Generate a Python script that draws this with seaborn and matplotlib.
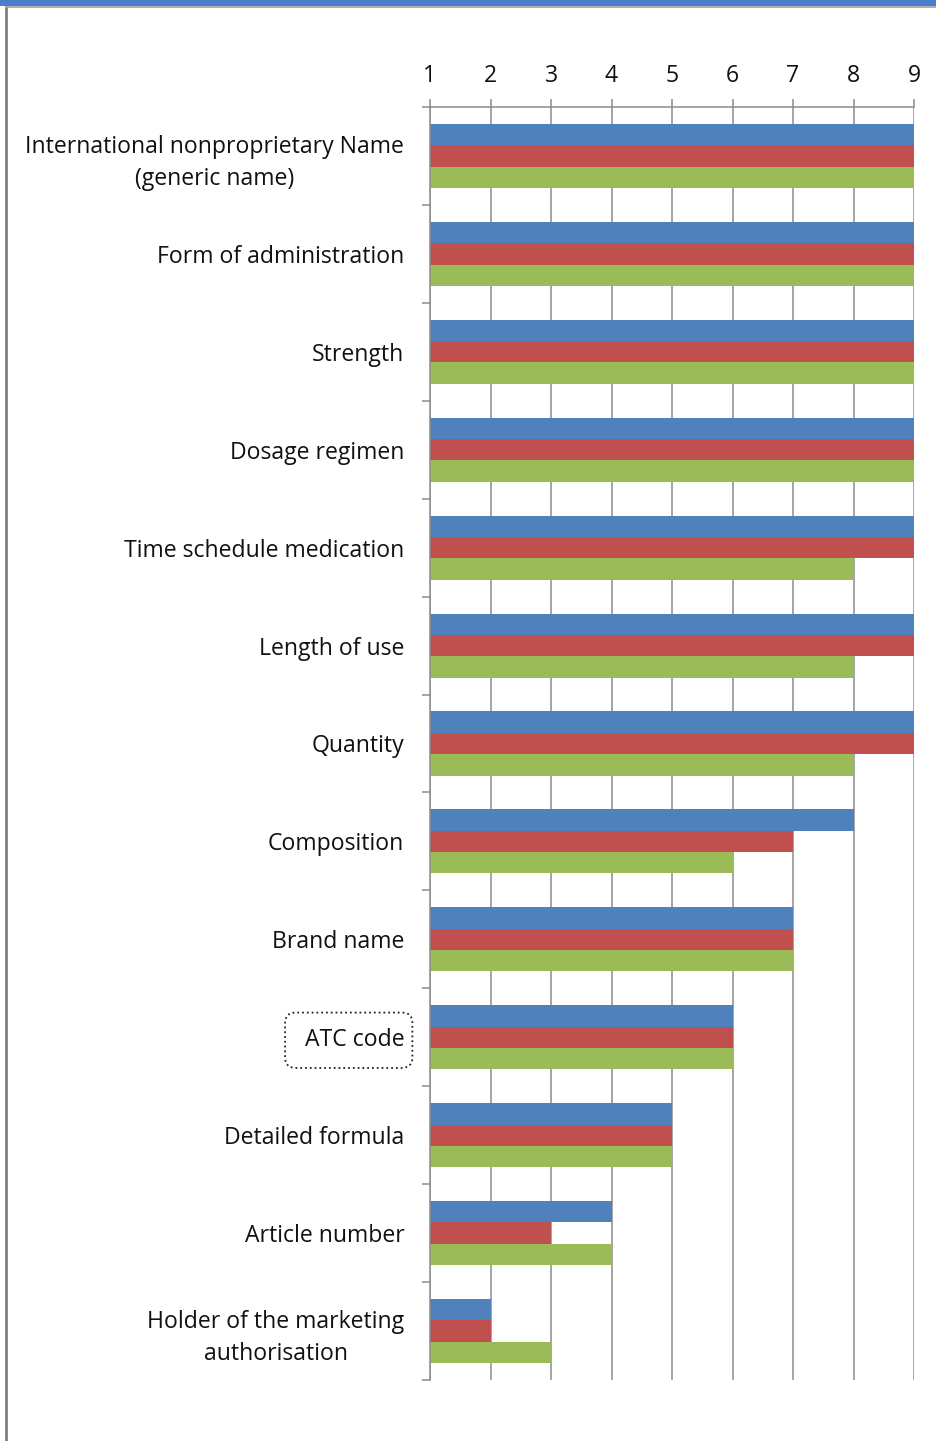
import matplotlib
matplotlib.use("Agg")
import matplotlib.pyplot as plt
from matplotlib.patches import Rectangle, BoxStyle
from matplotlib.lines import Line2D
from matplotlib.ticker import FixedLocator
import seaborn as sns
import pandas as pd

# Information items, top to bottom
items = [
    "International nonproprietary Name\n(generic name)",
    "Form of administration",
    "Strength",
    "Dosage regimen",
    "Time schedule medication",
    "Length of use",
    "Quantity",
    "Composition",
    "Brand name",
    "ATC code",
    "Detailed formula",
    "Article number",
    "Holder of the marketing\nauthorisation",
]

# Scores for the three series
series_a = [9, 9, 9, 9, 9, 9, 9, 8, 7, 6, 5, 4, 2]
series_b = [9, 9, 9, 9, 9, 9, 9, 7, 7, 6, 5, 3, 2]
series_c = [9, 9, 9, 9, 8, 8, 8, 6, 7, 6, 5, 4, 3]
series_names = ["Series 1", "Series 2", "Series 3"]
palette = ["#4F81BD", "#C0504D", "#9BBB59"]
x_ticks = [1, 2, 3, 4, 5, 6, 7, 8, 9]

df = pd.DataFrame({
    "item": items * 3,
    "score": series_a + series_b + series_c,
    "series": [series_names[0]] * len(items)
    + [series_names[1]] * len(items)
    + [series_names[2]] * len(items),
})

sns.set_theme(style="white")
plt.rcParams["font.family"] = ["Open Sans", "DejaVu Sans"]
FS = 16.6

fig = plt.figure(figsize=(9.36, 14.41), dpi=100)
ax = fig.add_axes([430 / 936, 1 - 1380 / 1441, (914 - 430) / 936, (1380 - 107) / 1441])

sns.barplot(data=df, y="item", x="score", hue="series", order=items,
            hue_order=series_names, palette=palette, orient="h",
            width=0.655, saturation=1, legend=False, ax=ax, linewidth=0)

grid_col = "#8C8C8C"
ax.set_xlim(x_ticks[0], x_ticks[-1])
ax.set_ylim(len(items) - 0.5, -0.5)
ax.set_xticks(x_ticks)
ax.set_xticklabels([str(t) for t in x_ticks])
ax.xaxis.tick_top()
ax.set_xlabel("")
ax.set_ylabel("")
ax.grid(False)
ax.set_axisbelow(True)
for t in x_ticks:
    ax.axvline(t, color=grid_col, lw=1.1, zorder=0)

for side in ["right", "bottom"]:
    ax.spines[side].set_visible(False)
for side in ["left", "top"]:
    ax.spines[side].set_color(grid_col)
    ax.spines[side].set_linewidth(1.1)

ax.tick_params(axis="x", which="major", top=True, bottom=False, direction="out",
               length=5.5, width=1.1, color=grid_col, pad=8, labelsize=FS,
               labelcolor="#111111")
ax.yaxis.set_minor_locator(FixedLocator([i - 0.5 for i in range(len(items) + 1)]))
ax.tick_params(axis="y", which="major", length=0, pad=18.5, labelsize=FS,
               labelcolor="#111111")
ax.tick_params(axis="y", which="minor", left=True, length=6, width=1.1,
               color=grid_col, direction="out")


def selection_box(x0, y0, width, height, mutation_size):
    """Rounded frame with a wider margin on the left than on the right."""
    left, right, vert = 0.85 * mutation_size, 0.35 * mutation_size, 0.68 * mutation_size
    return BoxStyle.Round(pad=0, rounding_size=0.45 * mutation_size)(
        x0 - left, y0 - vert, width + left + right, height + 2 * vert, 1.0)


for lab in ax.get_yticklabels():
    lab.set_multialignment("center")
    lab.set_linespacing(1.45)
    if lab.get_text() == "ATC code":
        lab.set_bbox(dict(boxstyle=selection_box, fc="white", ec="#222222",
                          ls=":", lw=1.3))

# window chrome: blue band at the top and grey frame edges
fig.add_artist(Rectangle((0, 1 - 6 / 1441), 1, 6 / 1441, transform=fig.transFigure,
                         color="#4A7EC8", lw=0))
fig.add_artist(Line2D([6 / 936, 6 / 936], [0, 1 - 7 / 1441], transform=fig.transFigure,
                      color="#7F7F7F", lw=2))
fig.add_artist(Line2D([6 / 936, 1], [1 - 7 / 1441, 1 - 7 / 1441], transform=fig.transFigure,
                      color="#A0A0A0", lw=1.2))

fig.savefig("out.png", dpi=100, facecolor="white")
